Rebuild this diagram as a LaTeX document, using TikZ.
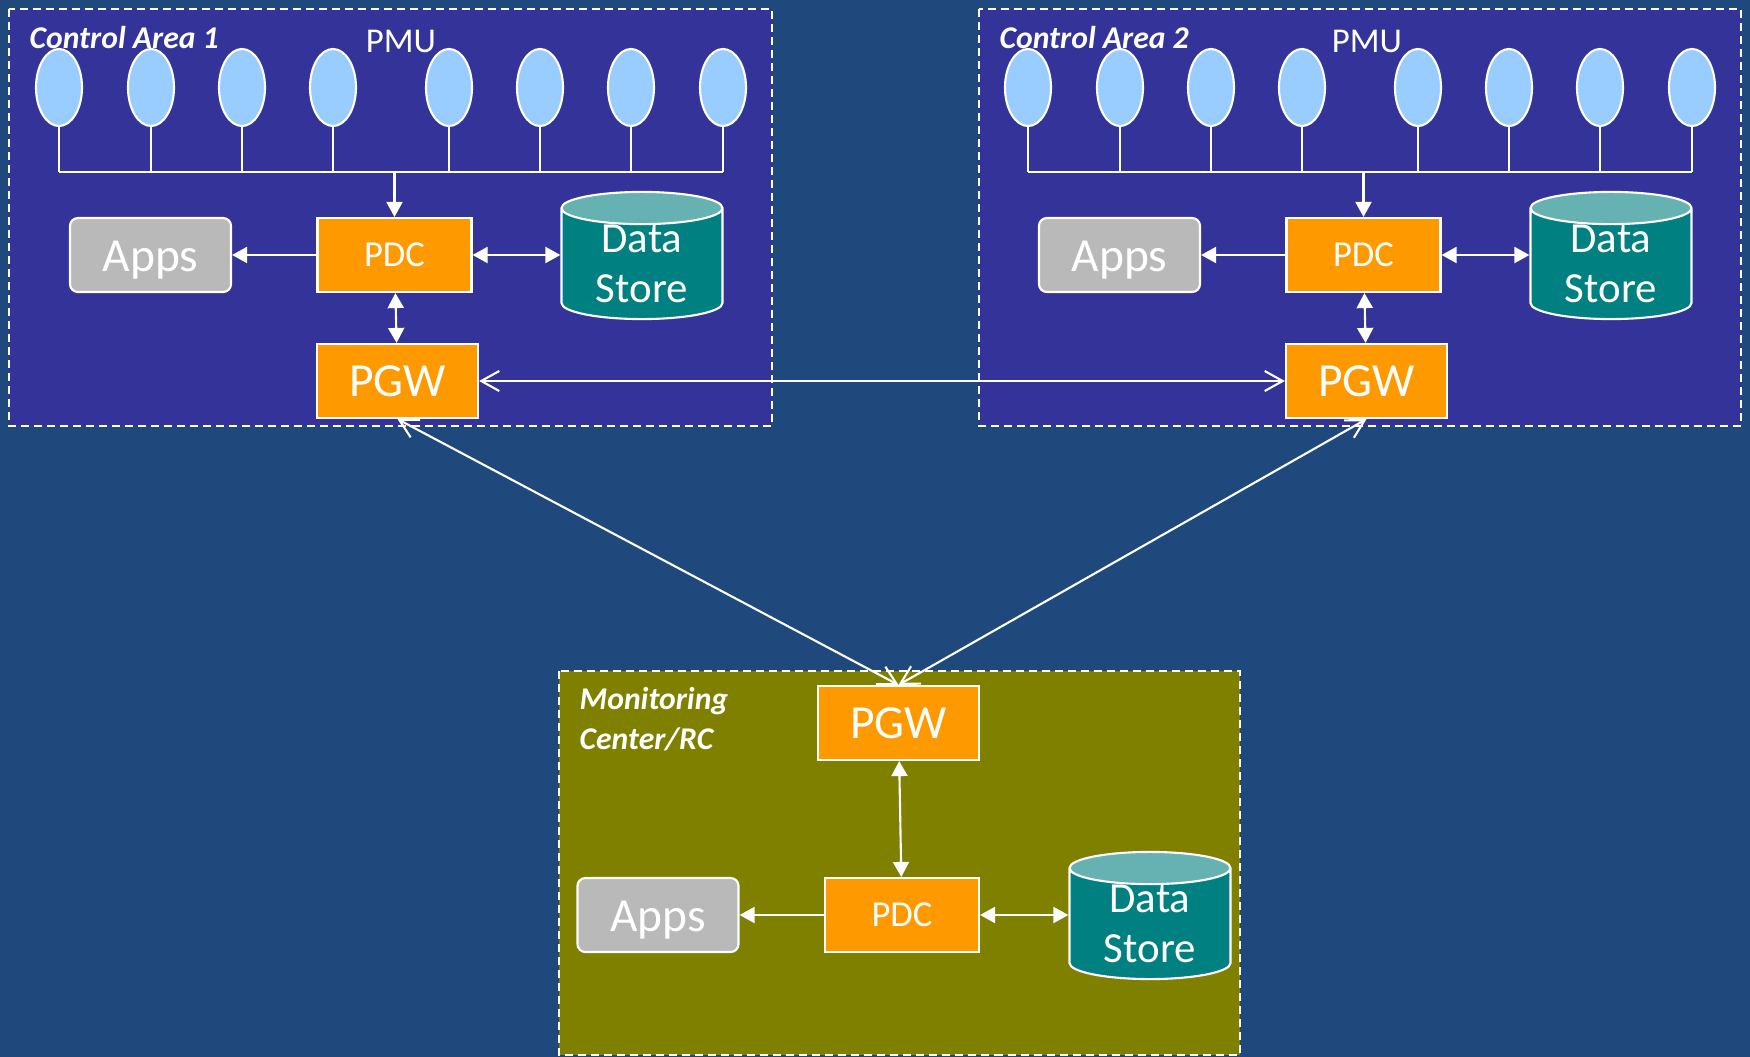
\documentclass[tikz,border=0pt]{standalone}
\usepackage{fontspec}
\setmainfont{Carlito}
\usetikzlibrary{shapes.geometric,arrows.meta}
\definecolor{bgblue}{HTML}{1F497D}
\definecolor{areablue}{HTML}{333399}
\definecolor{mcolive}{HTML}{808000}
\definecolor{boxorange}{HTML}{FF9900}
\definecolor{appsgray}{HTML}{B9B9B9}
\definecolor{storeteal}{HTML}{008080}
\definecolor{storetop}{HTML}{66B2B2}
\definecolor{pmublue}{HTML}{99CCFF}
\tikzset{
  area/.style={draw=white, line width=0.6pt, dash pattern=on 0.08cm off 0.05cm},
  box/.style={draw=white, line width=0.6pt, fill=boxorange, text=white, inner sep=0pt, minimum width=1.54cm, minimum height=0.74cm},
  pdcbox/.style={box, font=\fontsize{10.4}{12}\selectfont},
  pgwbox/.style={box, minimum width=1.61cm, font=\fontsize{13.5}{16}\selectfont},
  appsbox/.style={draw=white, line width=0.6pt, fill=appsgray, text=white, rounded corners=0.08cm, inner sep=0pt, minimum width=1.61cm, minimum height=0.74cm, text height=11.5pt, text depth=2.4pt, font=\fontsize{13.5}{16}\selectfont},
  store/.style={cylinder, shape border rotate=90, draw=white, line width=0.6pt, cylinder uses custom fill, cylinder body fill=storeteal, cylinder end fill=storetop, aspect=0.35, inner sep=0pt, minimum width=1.61cm, minimum height=1.23cm, align=center, text=white, font=\fontsize{12.2}{14.2}\selectfont, anchor=shape center},
  pmu/.style={ellipse, draw=white, line width=0.6pt, fill=pmublue, inner sep=0pt, minimum width=0.46cm, minimum height=0.77cm},
  title/.style={text=white, inner sep=0pt, font=\fontsize{9}{11.1}\selectfont\bfseries\itshape},
  link/.style={white, line width=0.6pt},
  tip/.style={link, -{Triangle[length=0.15cm, width=0.16cm]}},
  twotip/.style={link, {Triangle[length=0.15cm, width=0.16cm]}-{Triangle[length=0.15cm, width=0.16cm]}},
  wan/.style={link, {Straight Barb[length=0.18cm, width=0.2cm]}-{Straight Barb[length=0.18cm, width=0.2cm]}}
}
\begin{document}
\begin{tikzpicture}[x=0.01cm, y=-0.01cm]
  \useasboundingbox (0,0) rectangle (1750,1057);
  \fill[bgblue] (0,0) rectangle (1750,1057);
  % areas
  \fill[areablue] (9,9) rectangle (772,426);
  \draw[area] (9,9) rectangle (772,426);
  \fill[areablue] (979,9) rectangle (1741,426);
  \draw[area] (979,9) rectangle (1741,426);
  \fill[mcolive] (559,671) rectangle (1240,1055);
  \draw[area] (559,671) rectangle (1240,1055);

  \node[title, anchor=base west] (ca1) at (29,48) {Control Area 1};
  \node[title, anchor=base west] (ca2) at (999,48) {Control Area 2};
  \node[title, anchor=base west, align=left] (mc) at (579,749) {Monitoring\\Center/RC};
  \node[text=white, inner sep=0pt, anchor=base, font=\fontsize{9.9}{12}\selectfont] (pmulbl1) at (401,52) {PMU};
  \node[text=white, inner sep=0pt, anchor=base, font=\fontsize{9.9}{12}\selectfont] (pmulbl2) at (1367,52) {PMU};

  \node[pdcbox]  (pdc1)  at (394.5,255) {PDC};
  \node[appsbox] (apps1) at (150.5,255) {Apps};
  \node[store]   (ds1)   at (642,255.5) {Data\\Store};
  \node[pgwbox]  (pgw1)  at (397.5,381) {PGW};

  \node[pdcbox]  (pdc2)  at (1363.5,255) {PDC};
  \node[appsbox] (apps2) at (1119.5,255) {Apps};
  \node[store]   (ds2)   at (1611,255.5) {Data\\Store};
  \node[pgwbox]  (pgw2)  at (1366.5,381) {PGW};

  \node[pgwbox]  (pgw3)  at (898.5,723) {PGW};
  \node[pdcbox]  (pdc3)  at (902,915) {PDC};
  \node[appsbox] (apps3) at (658,915) {Apps};
  \node[store]   (ds3)   at (1150,915.5) {Data\\Store};

  % PMUs and bus
  \foreach \a/\dx in {1/0, 2/969} {
    \foreach \i/\x in {1/59, 2/151, 3/242, 4/333, 5/449, 6/540, 7/631, 8/723} {
      \node[pmu] (pmu\a\i) at (\x+\dx,87.5) {};
      \coordinate (bus\a\i) at (\x+\dx,172);
      \draw[link] (pmu\a\i) -- (bus\a\i);
    }
    \coordinate (tap\a) at (394.5+\dx,172);
    \draw[link] (bus\a1) -- (bus\a8);
    \draw[tip] (tap\a) -- (pdc\a);
  }

  \draw[tip] (pdc1) -- (apps1);
  \draw[twotip] (pdc1) -- (ds1.west |- pdc1);
  \draw[twotip] (pdc1) -- (pgw1);
  \draw[tip] (pdc2) -- (apps2);
  \draw[twotip] (pdc2) -- (ds2.west |- pdc2);
  \draw[twotip] (pdc2) -- (pgw2);
  \draw[tip] (pdc3) -- (apps3);
  \draw[twotip] (pdc3) -- (ds3.west |- pdc3);
  \draw[twotip] (pgw3) -- (pdc3);

  \draw[wan] (pgw1) -- (pgw2);
  \draw[wan] (pgw1.south) -- (pgw3.north);
  \draw[wan] (pgw2.south) -- (pgw3.north);
\end{tikzpicture}
\end{document}
